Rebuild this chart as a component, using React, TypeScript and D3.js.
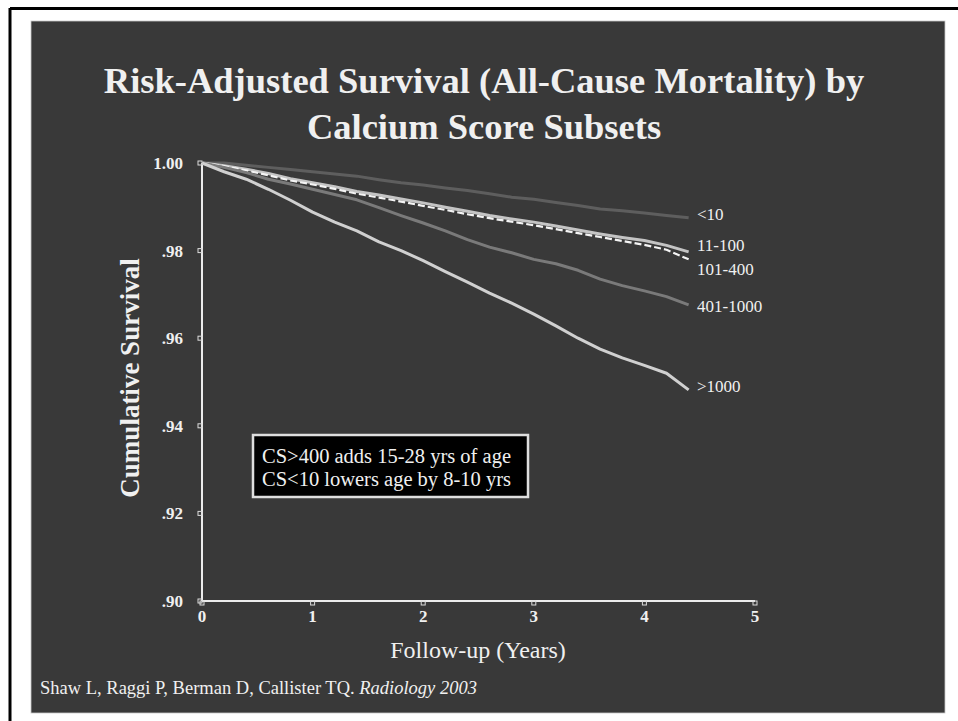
import React from "react";
import * as d3 from "d3";

const years = [0, 0.2, 0.4, 0.6, 0.8, 1.0, 1.2, 1.4, 1.6, 1.8, 2.0, 2.2, 2.4, 2.6, 2.8, 3.0, 3.2, 3.4, 3.6, 3.8, 4.0, 4.2, 4.4];

const csLt10 = [1.0, 1.0, 0.9995, 0.999, 0.9985, 0.998, 0.9975, 0.997, 0.9962, 0.9955, 0.995, 0.9943, 0.9937, 0.993, 0.9922, 0.9917, 0.991, 0.9903, 0.9895, 0.9891, 0.9886, 0.988, 0.9875];
const cs11to100 = [1.0, 0.9994, 0.9986, 0.9976, 0.9964, 0.9955, 0.9946, 0.9935, 0.9927, 0.9918, 0.9909, 0.9899, 0.989, 0.988, 0.9872, 0.9865, 0.9856, 0.9847, 0.9838, 0.983, 0.9823, 0.9812, 0.9797];
const cs101to400 = [1.0, 0.9993, 0.9983, 0.9972, 0.996, 0.9951, 0.9941, 0.993, 0.9921, 0.9912, 0.9902, 0.9893, 0.9883, 0.9874, 0.9866, 0.9858, 0.9849, 0.984, 0.9831, 0.9822, 0.9813, 0.9802, 0.978];
const cs401to1000 = [1.0, 0.999, 0.9978, 0.9963, 0.9952, 0.994, 0.9928, 0.9916, 0.9898, 0.988, 0.9863, 0.9845, 0.9825, 0.9808, 0.9795, 0.978, 0.977, 0.9755, 0.9735, 0.972, 0.9708, 0.9695, 0.9676];
const csGt1000 = [1.0, 0.998, 0.9963, 0.994, 0.9915, 0.9888, 0.9865, 0.9845, 0.982, 0.98, 0.9777, 0.9752, 0.9728, 0.9703, 0.968, 0.9655, 0.9628, 0.96, 0.9575, 0.9555, 0.9538, 0.952, 0.9482];

const seriesNames = ["<10", "11-100", "101-400", "401-1000", ">1000"];
const seriesValues = [csLt10, cs11to100, cs101to400, cs401to1000, csGt1000];
const seriesColors = ["#5e5e5e", "#c4c4c4", "#f4f4f4", "#7a7a7a", "#d0d0d0"];
const labelBaselines = [220, 251, 275, 312, 392];

const xTicks = [0, 1, 2, 3, 4, 5];
const yTicks = [0.9, 0.92, 0.94, 0.96, 0.98, 1.0];
const yTickLabels = [".90", ".92", ".94", ".96", ".98", "1.00"];

const titleLines = ["Risk-Adjusted Survival (All-Cause Mortality) by", "Calcium Score Subsets"];
const noteLines = ["CS>400 adds 15-28 yrs of age", "CS<10 lowers age by 8-10 yrs"];

export default function App() {
  const x = d3.scaleLinear().domain([0, 5]).range([202, 755]);
  const y = d3.scaleLinear().domain([0.9, 1.0]).range([601, 163]);
  const line = d3
    .line<number>()
    .x((_, i) => x(years[i]))
    .y((d) => y(d))
    .curve(d3.curveLinear);
  const serif = "'Liberation Serif', 'Times New Roman', serif";
  const txt = "#f0f0f0";

  return (
    <svg width={958} height={721} style={{ position: "absolute", left: 0, top: 0 }} fontFamily={serif}>
      <rect x={0} y={0} width={958} height={721} fill="#ffffff" />
      <line x1={10} y1={8.5} x2={958} y2={8.5} stroke="#000" strokeWidth={3} />
      <line x1={10} y1={8} x2={10} y2={721} stroke="#000" strokeWidth={3} />
      <rect x={31} y={21} width={914} height={692} fill="#393939" stroke="#c8c8c8" strokeWidth={0.8} />

      {titleLines.map((t, i) => (
        <text key={t} x={484} y={93 + i * 46} textAnchor="middle" fontSize={36.5} fontWeight="bold" fill={txt}>
          {t}
        </text>
      ))}

      {/* axes */}
      <line x1={x(0)} y1={y(1.0)} x2={x(0)} y2={y(0.9)} stroke="#ececec" strokeWidth={2} />
      <line x1={x(0)} y1={y(0.9)} x2={x(5)} y2={y(0.9)} stroke="#ececec" strokeWidth={2} />
      {yTicks.map((t, i) => (
        <g key={t}>
          <rect x={x(0) - 4} y={y(t) - 2} width={4} height={4} fill="none" stroke="#dcdcdc" strokeWidth={1} />
          <text x={183} y={y(t) + 6} textAnchor="end" fontSize={17} fontWeight="bold" fill={txt}>
            {yTickLabels[i]}
          </text>
        </g>
      ))}
      {xTicks.map((t) => (
        <g key={t}>
          <rect x={x(t) - 2} y={y(0.9)} width={4} height={4} fill="none" stroke="#dcdcdc" strokeWidth={1} />
          <text x={x(t)} y={y(0.9) + 21} textAnchor="middle" fontSize={17} fontWeight="bold" fill={txt}>
            {t}
          </text>
        </g>
      ))}

      <text
        transform={`translate(139,378) rotate(-90)`}
        textAnchor="middle"
        fontSize={27}
        fontWeight="bold"
        fill={txt}
      >
        Cumulative Survival
      </text>
      <text x={478} y={658} textAnchor="middle" fontSize={24} fill={txt}>
        Follow-up (Years)
      </text>

      {/* curves */}
      {seriesValues.map((vals, i) => (
        <path
          key={seriesNames[i]}
          d={line(vals) || ""}
          fill="none"
          stroke={seriesColors[i]}
          strokeWidth={i === 2 ? 2.2 : 3}
          strokeDasharray={i === 2 ? "7 3" : undefined}
          strokeLinejoin="round"
        />
      ))}
      {seriesNames.map((n, i) => (
        <text key={n} x={697} y={labelBaselines[i]} fontSize={17} fill={txt}>
          {n}
        </text>
      ))}

      {/* annotation */}
      <rect x={253} y={435} width={275} height={62} fill="#000" stroke="#dedede" strokeWidth={2.5} />
      {noteLines.map((t, i) => (
        <text key={t} x={262} y={463 + i * 23} fontSize={20.5} fill={txt}>
          {t}
        </text>
      ))}

      <text x={40} y={694} fontSize={18.5} fill={txt}>
        Shaw L, Raggi P, Berman D, Callister TQ. <tspan fontStyle="italic">Radiology 2003</tspan>
      </text>
    </svg>
  );
}
